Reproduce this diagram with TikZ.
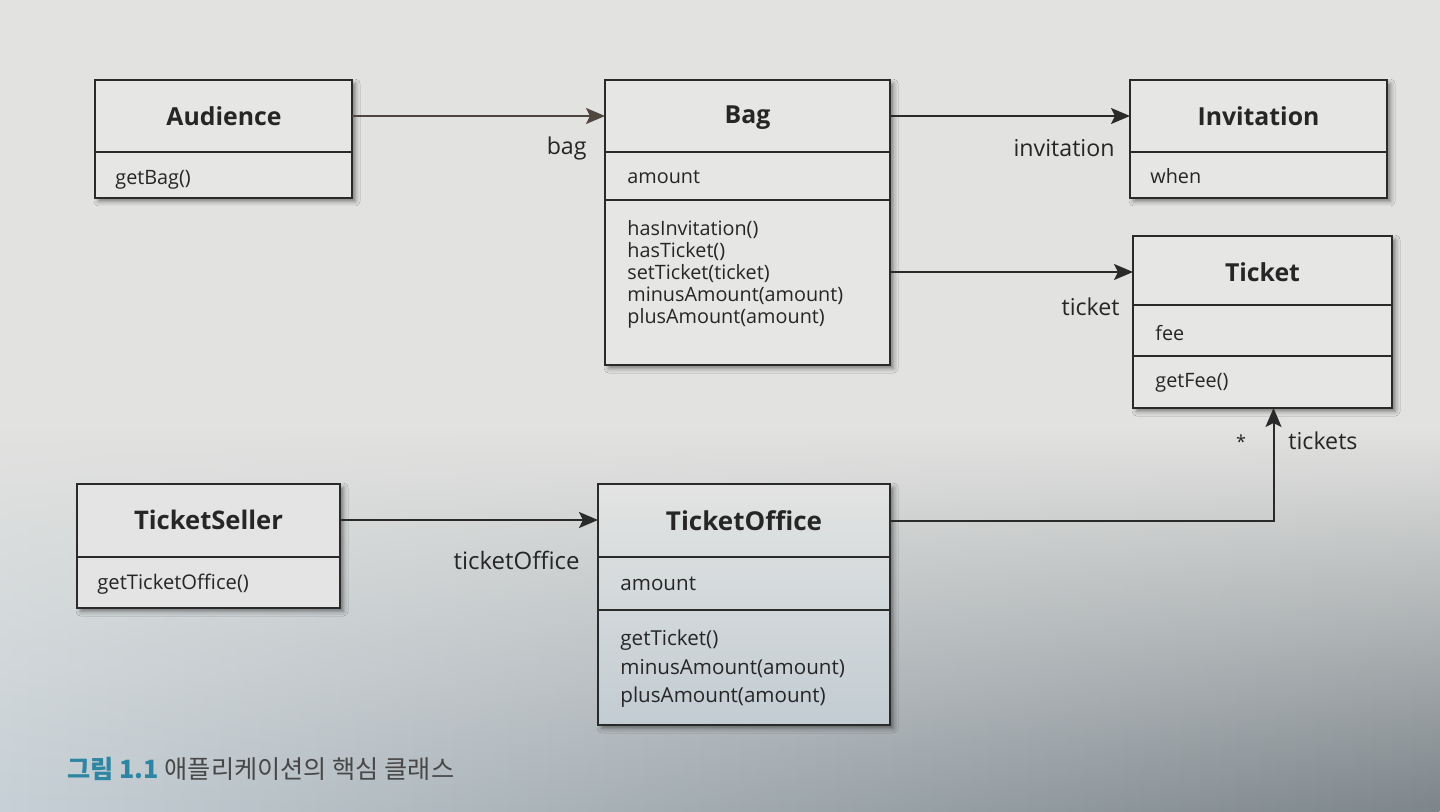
\documentclass[tikz,border=0pt]{standalone}
\usepackage{fontspec}
\setmainfont{Open Sans}
\newfontfamily\krfont{Noto Sans CJK KR}
\usetikzlibrary{arrows.meta,shadows.blur,fadings,calc}
\definecolor{bgtop}{HTML}{E2E2E0}
\definecolor{boxfill}{HTML}{E6E6E4}
\definecolor{linec}{HTML}{2A2A2A}
\definecolor{brownline}{HTML}{4E463F}
\definecolor{txt}{HTML}{262626}
\definecolor{capblue}{HTML}{2F86A3}
\definecolor{lowleft}{HTML}{C6D0D6}
\definecolor{lowmid}{HTML}{ADB7BD}
\definecolor{lowright}{HTML}{7C858A}
\begin{document}
\begin{tikzpicture}[x=0.5pt,y=-0.5pt,
  clsbox/.style={draw=linec, line width=1pt, fill=boxfill, anchor=north west, inner sep=0pt, outer sep=0pt,
    blur shadow={shadow xshift=1.8pt, shadow yshift=-1.8pt, shadow blur radius=2.2pt, shadow opacity=45}},
  divline/.style={draw=linec, line width=0.9pt},
  ttl/.style={font=\bfseries\fontsize{12.4pt}{14pt}\selectfont, text=txt, inner sep=0pt},
  mem/.style={font=\fontsize{9.9pt}{11pt}\selectfont, text=txt, inner sep=0pt, anchor=west, align=left},
  lbl/.style={font=\fontsize{11.6pt}{14pt}\selectfont, text=txt, inner sep=0pt},
  arr/.style={draw=linec, line width=1pt, -{Stealth[length=9.5pt, width=8pt, inset=2pt]}}
]
\useasboundingbox (0,0) rectangle (1440,812);
% background
\fill[bgtop] (0,0) rectangle (1440,812);
\shade[left color=lowleft, middle color=lowmid, right color=lowright, path fading=north] (0,430) rectangle (1440,812);

% Audience
\node[clsbox, minimum width=128.5pt, minimum height=59pt] (aud) at (95,80) {};
\draw[divline] (aud.west |- 0,152) -- (aud.east |- 0,152);
\node[ttl] (audN) at (224,116) {Audience};
\node[mem] (audM) at (115,180) {getBag()};

% Bag
\node[clsbox, minimum width=142.5pt, minimum height=142.5pt] (bag) at (605,80) {};
\draw[divline] (bag.west |- 0,152) -- (bag.east |- 0,152);
\draw[divline] (bag.west |- 0,200) -- (bag.east |- 0,200);
\node[ttl] (bagN) at (747.5,118) {Bag};
\node[mem] (bagA) at (627,177) {amount};
\node[mem] (bagM) at (627,274) {hasInvitation()\\hasTicket()\\setTicket(ticket)\\minusAmount(amount)\\plusAmount(amount)};

% Invitation
\node[clsbox, minimum width=128.5pt, minimum height=59pt] (inv) at (1130,80) {};
\draw[divline] (inv.west |- 0,152) -- (inv.east |- 0,152);
\node[ttl] (invN) at (1258.5,116) {Invitation};
\node[mem] (invA) at (1150,176) {when};

% Ticket
\node[clsbox, minimum width=129.5pt, minimum height=86pt] (tic) at (1133,236) {};
\draw[divline] (tic.west |- 0,305) -- (tic.east |- 0,305);
\draw[divline] (tic.west |- 0,356) -- (tic.east |- 0,356);
\node[ttl] (ticN) at (1262.5,272) {Ticket};
\node[mem] (ticA) at (1155,333) {fee};
\node[mem] (ticM) at (1155,383) {getFee()};

% TicketSeller
\node[clsbox, fill=boxfill!92!lowleft, minimum width=131.5pt, minimum height=62pt] (sel) at (77,484) {};
\draw[divline] (sel.west |- 0,557) -- (sel.east |- 0,557);
\node[ttl, font=\bfseries\fontsize{12.8pt}{14pt}\selectfont] (selN) at (208.5,520) {TicketSeller};
\node[mem, font=\fontsize{10.1pt}{11pt}\selectfont] (selM) at (97,584) {getTicketOffice()};

% TicketOffice
\node[clsbox, top color=boxfill!90!lowleft, bottom color=lowleft!85!lowmid, minimum width=146pt, minimum height=120.5pt] (off) at (598,484) {};
\draw[divline] (off.west |- 0,557) -- (off.east |- 0,557);
\draw[divline] (off.west |- 0,610) -- (off.east |- 0,610);
\node[ttl, font=\bfseries\fontsize{13pt}{14pt}\selectfont] (offN) at (744,521) {TicketOffice};
\node[mem, font=\fontsize{10.3pt}{11pt}\selectfont] (offA) at (620,584) {amount};
\node[mem, font=\fontsize{10.3pt}{14.2pt}\selectfont] (offM) at (620,669) {getTicket()\\minusAmount(amount)\\plusAmount(amount)};

% connectors
\draw[arr, draw=brownline] (aud.east |- audN) -- (bag.west |- audN);
\draw[arr] (bag.east |- invN) -- (inv.west |- invN);
\draw[arr] (bag.east |- ticN) -- (tic.west |- ticN);
\draw[arr] (sel.east |- selN) -- (off.west |- selN);
\coordinate (ticIn) at ($(tic.south)+(5.5pt,0)$);
\draw[arr] (off.east |- offN) -| (ticIn);

% labels
\node[lbl, anchor=east] (lbag) at (587,148) {bag};
\node[lbl, anchor=east] (linv) at (1115,148) {invitation};
\node[lbl, anchor=east] (ltic) at (1120,307) {ticket};
\node[lbl, anchor=east, font=\fontsize{12pt}{14pt}\selectfont] (loff) at (580,560) {ticketOffice};
\node[lbl, font=\fontsize{9pt}{10pt}\selectfont] (lstar) at (1241,442) {*};
\node[lbl, anchor=west] (ltics) at (1288,441) {tickets};

% caption
\node[anchor=west, inner sep=0pt, text=txt!85!white, font=\krfont\fontsize{12.6pt}{14pt}\selectfont] (cap) at (67,769) {\textcolor{capblue}{\bfseries 그림 1.1} 애플리케이션의 핵심 클래스};
\end{tikzpicture}
\end{document}
